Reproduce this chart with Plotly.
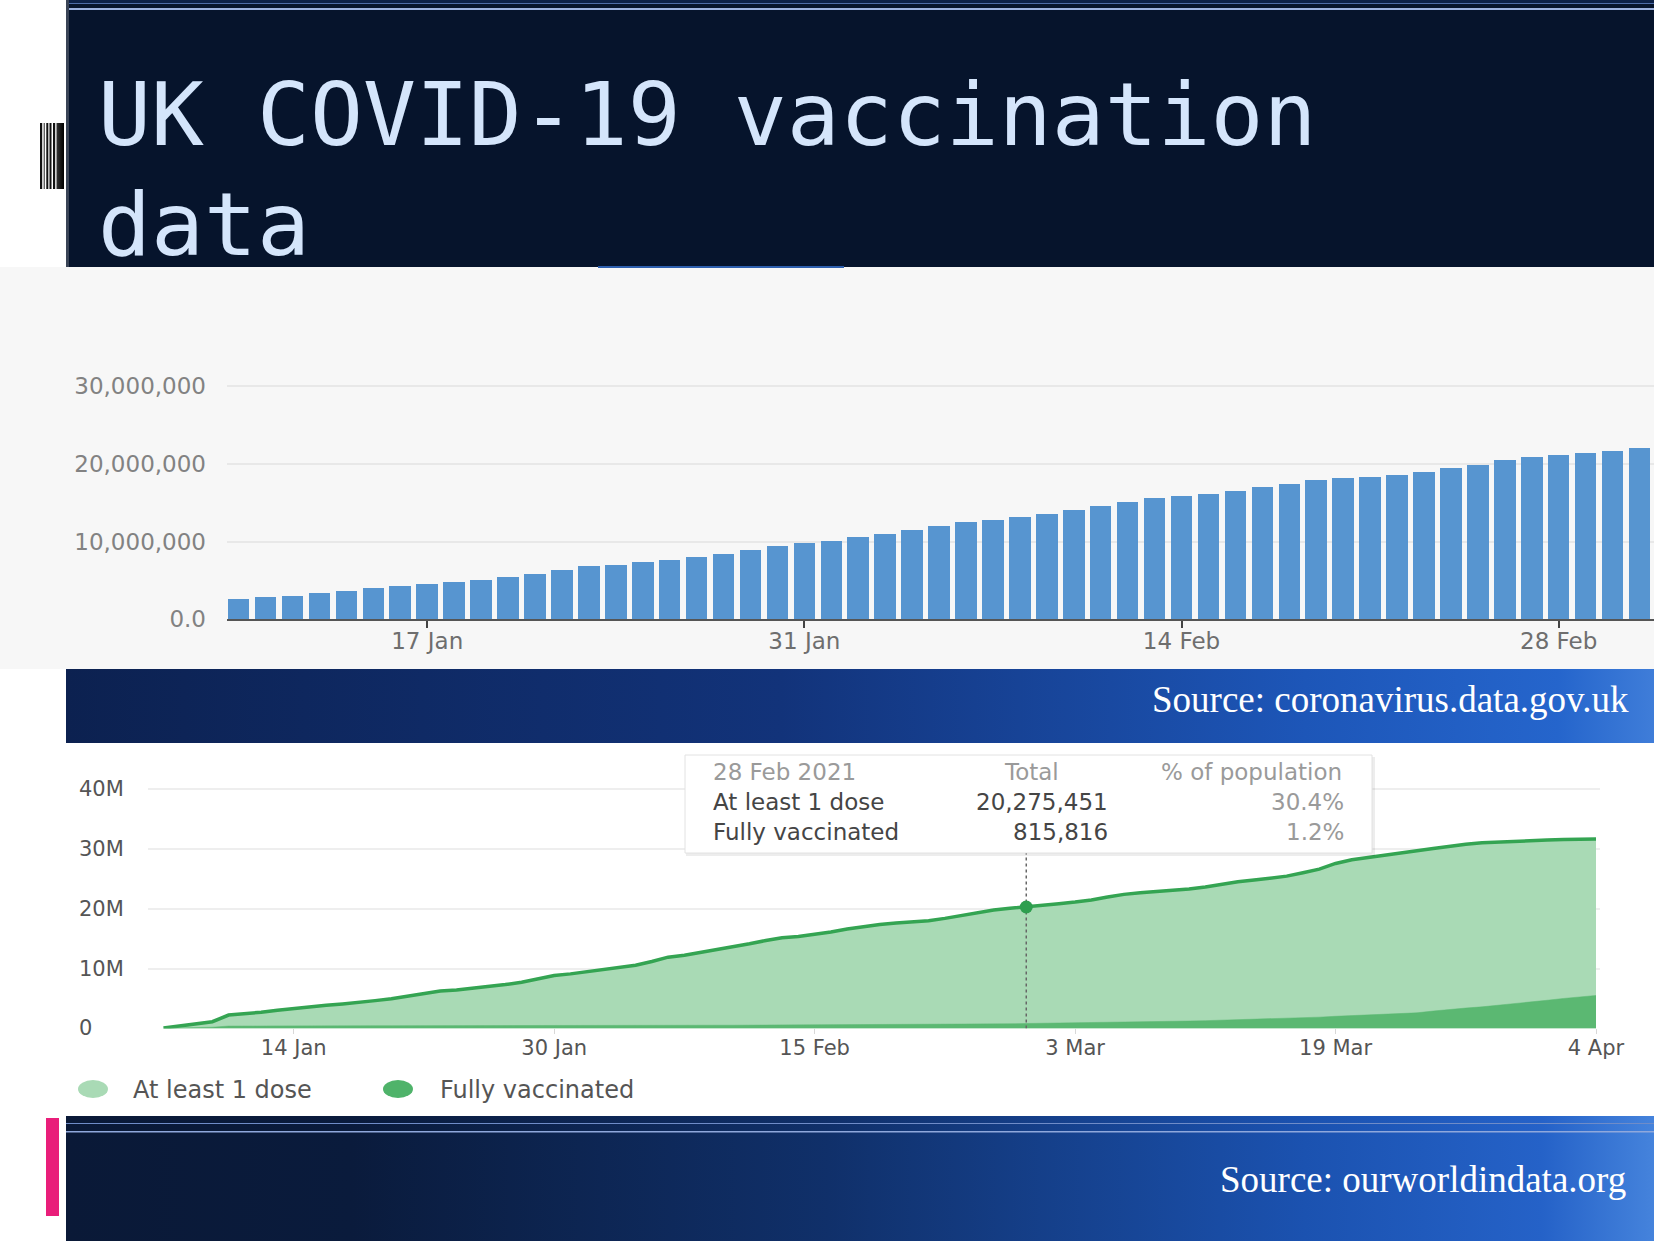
import base64
import pandas as pd
import plotly.graph_objects as go

W, H = 1654, 1241

# ---------------- data ----------------
# Top chart: coronavirus.data.gov.uk cumulative vaccinations (millions)
bar_dates = pd.date_range("2021-01-10", "2021-03-03", freq="D")
bar_values_m = [
    2.66, 2.84, 3.05, 3.31, 3.65, 4.00, 4.30, 4.47, 4.73, 5.07, 5.41, 5.80,
    6.32, 6.79, 7.04, 7.34, 7.65, 7.95, 8.38, 8.86, 9.46, 9.76,
    10.11, 10.54, 11.02, 11.49, 11.97, 12.53, 12.79, 13.17, 13.56, 14.04,
    14.56, 15.12, 15.64, 15.85, 16.11, 16.50, 17.02, 17.45, 17.88, 18.14,
    18.36, 18.57, 18.92, 19.40, 19.91, 20.48, 20.91, 21.08,
    21.38, 21.64, 21.99,
]
top_xtick_dates = ["2021-01-17", "2021-01-31", "2021-02-14", "2021-02-28"]
top_xtick_labels = ["17 Jan", "31 Jan", "14 Feb", "28 Feb"]
top_ytick_vals = [0, 10_000_000, 20_000_000, 30_000_000]
top_ytick_labels = ["0.0", "10,000,000", "20,000,000", "30,000,000"]

# Bottom chart: ourworldindata.org (millions)
owid_dates = pd.date_range("2021-01-06", "2021-04-04", freq="D")
first_dose_m = [
    0.05, 0.40, 0.75, 1.12, 2.23, 2.40, 2.70, 3.05, 3.35, 3.63, 3.85, 4.08,
    4.30, 4.64, 4.97, 5.36, 5.87, 6.26, 6.42, 6.70, 6.98, 7.32, 7.71, 8.21,
    8.83, 9.11,
    9.50, 9.85, 10.20, 10.56, 11.17, 11.90, 12.23, 12.68, 13.13, 13.63,
    14.13, 14.69, 15.14, 15.36, 15.70, 16.09, 16.59, 17.04, 17.37, 17.60,
    17.77, 17.99, 18.38, 18.83, 19.33, 19.78, 20.06, 20.28,
    20.56, 20.84, 21.10, 21.44, 21.94, 22.39, 22.67, 22.83, 23.06, 23.28,
    23.61, 24.11, 24.50, 24.78, 25.06, 25.44, 26.00, 26.61, 27.56, 28.17,
    28.56, 28.89, 29.28, 29.67, 30.06, 30.44, 30.78, 31.00, 31.15, 31.28,
    31.40,
    31.48, 31.55, 31.60, 31.62,
]
fully_m = [
    0.02, 0.05, 0.10, 0.20, 0.39, 0.41, 0.41, 0.42, 0.43, 0.43, 0.44, 0.44,
    0.44, 0.45, 0.45, 0.46, 0.46, 0.47, 0.47, 0.47, 0.47, 0.48, 0.48, 0.49,
    0.49, 0.49,
    0.49, 0.50, 0.50, 0.51, 0.51, 0.52, 0.52, 0.52, 0.53, 0.53, 0.54, 0.54,
    0.55, 0.55, 0.56, 0.56, 0.57, 0.58, 0.59, 0.60, 0.61, 0.62, 0.63, 0.65,
    0.68, 0.72, 0.77, 0.82,
    0.85, 0.89, 0.93, 0.98, 1.03, 1.08, 1.11, 1.14, 1.18, 1.23, 1.29, 1.36,
    1.44, 1.52, 1.58, 1.65, 1.75, 1.88, 2.02, 2.15, 2.25, 2.32, 2.42, 2.60,
    2.90, 3.20, 3.40, 3.60, 3.85, 4.10, 4.40,
    4.70, 5.00, 5.30, 5.50,
]
bot_xtick_dates = ["2021-01-14", "2021-01-30", "2021-02-15", "2021-03-03", "2021-03-19", "2021-04-04"]
bot_xtick_labels = ["14 Jan", "30 Jan", "15 Feb", "3 Mar", "19 Mar", "4 Apr"]
bot_ytick_vals = [0, 10_000_000, 20_000_000, 30_000_000, 40_000_000]
bot_ytick_labels = ["0", "10M", "20M", "30M", "40M"]

series_names = ["At least 1 dose", "Fully vaccinated"]
hover_date = "2021-02-28"
tooltip_header = ["28 Feb 2021", "Total", "% of population"]
tooltip_totals = ["20,275,451", "815,816"]
tooltip_pcts = ["30.4%", "1.2%"]

title_lines = ["UK COVID-19 vaccination", "data"]
source_top = "Source: coronavirus.data.gov.uk"
source_bottom = "Source: ourworldindata.org"

# ---------------- helpers ----------------
def px(x):
    return x / W


def py(y):
    return 1 - y / H


DAY_MS = 86_400_000

# ---------------- slide background (svg) ----------------
svg = f'''<svg xmlns="http://www.w3.org/2000/svg" width="{W}" height="{H}" viewBox="0 0 {W} {H}" preserveAspectRatio="none">
<defs>
<linearGradient id="g1" x1="0" y1="0" x2="1" y2="0">
<stop offset="0" stop-color="#0c2150"/>
<stop offset="0.45" stop-color="#12337a"/>
<stop offset="0.78" stop-color="#1d56b8"/>
<stop offset="0.94" stop-color="#2565cc"/>
<stop offset="1" stop-color="#3f7dd9"/>
</linearGradient>
<linearGradient id="g2" x1="0" y1="0" x2="1" y2="0">
<stop offset="0" stop-color="#0a1937"/>
<stop offset="0.18" stop-color="#0a1b3c"/>
<stop offset="0.48" stop-color="#10306a"/>
<stop offset="0.78" stop-color="#1b52b0"/>
<stop offset="0.93" stop-color="#2562c8"/>
<stop offset="1" stop-color="#4583dc"/>
</linearGradient>
<linearGradient id="gb" x1="0" y1="0" x2="1" y2="0">
<stop offset="0" stop-color="#333"/>
<stop offset="1" stop-color="#000"/>
</linearGradient>
</defs>
<rect x="0" y="0" width="{W}" height="{H}" fill="#ffffff"/>
<rect x="66" y="0" width="{W-66}" height="267" fill="#06142c"/>
<rect x="66" y="0" width="{W-66}" height="3" fill="#0b2047"/>
<rect x="66" y="3" width="{W-66}" height="1" fill="#4d6ca8"/>
<rect x="66" y="8" width="{W-66}" height="2" fill="#9ab0de"/>
<rect x="66" y="0" width="3" height="267" fill="#3a4456"/>
<rect x="40" y="123" width="2.2" height="66" fill="#111"/>
<rect x="43.7" y="123" width="1" height="66" fill="#222"/>
<rect x="46.3" y="123" width="2" height="66" fill="#111"/>
<rect x="49.5" y="123" width="2" height="66" fill="#111"/>
<rect x="53" y="123" width="2.2" height="66" fill="#111"/>
<rect x="56.5" y="123" width="7.5" height="66" fill="url(#gb)"/>
<rect x="0" y="267" width="{W}" height="402" fill="#f7f7f7"/>
<rect x="598" y="266" width="246" height="2" fill="#2d5fae"/>
<rect x="66" y="669" width="{W-66}" height="74" fill="url(#g1)"/>
<rect x="66" y="1116" width="{W-66}" height="{H-1116}" fill="url(#g2)"/>
<rect x="66" y="1123" width="{W-66}" height="1" fill="#6f8cc8"/>
<rect x="66" y="1131" width="{W-66}" height="1.5" fill="#8fa8dc"/>
<rect x="46" y="1118" width="13" height="98" fill="#e91e7a"/>
</svg>'''
svg_uri = "data:image/svg+xml;base64," + base64.b64encode(svg.encode()).decode()

# ---------------- figure ----------------
fig = go.Figure()

bar_values = [v * 1_000_000 for v in bar_values_m]
fig.add_trace(go.Bar(
    x=bar_dates, y=bar_values, width=0.8 * DAY_MS,
    marker=dict(color="#5795d0", line=dict(width=0)),
    xaxis="x", yaxis="y", hoverinfo="skip", showlegend=False,
))

first_dose = [v * 1_000_000 for v in first_dose_m]
fully = [v * 1_000_000 for v in fully_m]
fig.add_trace(go.Scatter(
    x=owid_dates, y=first_dose, mode="lines", fill="tozeroy",
    fillcolor="#a9dab5", line=dict(color="#34a452", width=3.5),
    xaxis="x2", yaxis="y2", name=series_names[0], showlegend=False, hoverinfo="skip",
))
fig.add_trace(go.Scatter(
    x=owid_dates, y=fully, mode="lines", fill="tozeroy",
    fillcolor="#5bb872", line=dict(color="#5bb872", width=0.5),
    xaxis="x2", yaxis="y2", name=series_names[1], showlegend=False, hoverinfo="skip",
))

hover_idx = list(owid_dates.strftime("%Y-%m-%d")).index(hover_date)
# tooltip bottom edge in y2 data units (box bottom at 853 px)
bot_base_px, bot_10m_px = 1028.4, 59.86
tooltip_bottom_val = (bot_base_px - 853) / bot_10m_px * 10_000_000
fig.add_trace(go.Scatter(
    x=[hover_date, hover_date], y=[0, tooltip_bottom_val], mode="lines",
    line=dict(color="#666666", width=1.5, dash="dot"),
    xaxis="x2", yaxis="y2", showlegend=False, hoverinfo="skip",
))
fig.add_trace(go.Scatter(
    x=[hover_date], y=[first_dose[hover_idx]], mode="markers",
    marker=dict(color="#2e9e4f", size=13),
    xaxis="x2", yaxis="y2", showlegend=False, hoverinfo="skip",
))

# axis ranges from pixel geometry
top_base_px, top_10m_px, top_top_px = 619.2, 77.7, 300
top_ymax = (top_base_px - top_top_px) / top_10m_px * 10_000_000
bot_top_px = 770
bot_ymax = (bot_base_px - bot_top_px) / bot_10m_px * 10_000_000

day0_bot = pd.Timestamp("2021-01-06")
bot_pxday = 16.28
bot_x0 = day0_bot - pd.Timedelta(days=15.5 / bot_pxday)
bot_x1 = pd.Timestamp("2021-04-04") + pd.Timedelta(days=4 / bot_pxday)

top_pxday = 26.94
ref17 = pd.Timestamp("2021-01-17")
top_x0 = ref17 - pd.Timedelta(days=(427.2 - 227) / top_pxday)
top_x1 = ref17 + pd.Timedelta(days=(1654 - 427.2) / top_pxday)

tick_font_top = dict(family="DejaVu Sans", size=23, color="#828282")
tick_font_top_x = dict(family="DejaVu Sans", size=23, color="#6e6e6e")
tick_font_bot = dict(family="DejaVu Sans", size=21, color="#555555")

fig.update_layout(
    width=W, height=H,
    margin=dict(l=0, r=0, t=0, b=0, pad=0),
    paper_bgcolor="#ffffff", plot_bgcolor="rgba(0,0,0,0)",
    showlegend=False, bargap=0,
    xaxis=dict(
        domain=[px(227), 1.0], type="date", range=[top_x0, top_x1], anchor="y",
        tickvals=top_xtick_dates, ticktext=top_xtick_labels,
        ticks="outside", ticklen=7, tickwidth=2, tickcolor="#444444",
        showline=True, linecolor="#555555", linewidth=2, ticklabelstandoff=-7,
        showgrid=False, zeroline=False, tickfont=tick_font_top_x, fixedrange=True,
        automargin=False,
    ),
    yaxis=dict(
        domain=[py(top_base_px), py(top_top_px)], range=[0, top_ymax], anchor="x",
        tickvals=top_ytick_vals, ticktext=top_ytick_labels,
        showgrid=True, gridcolor="#e8e8e8", gridwidth=1.5, zeroline=False,
        ticklabelstandoff=20, tickfont=tick_font_top, fixedrange=True,
        automargin=False,
    ),
    xaxis2=dict(
        domain=[px(148), px(1600)], type="date", range=[bot_x0, bot_x1], anchor="y2",
        tickvals=bot_xtick_dates, ticktext=bot_xtick_labels,
        ticks="outside", ticklen=5, tickwidth=1, tickcolor="#d8d8d8",
        showline=False, showgrid=False, zeroline=False, tickfont=tick_font_bot,
        ticklabelstandoff=-5, fixedrange=True, automargin=False,
    ),
    yaxis2=dict(
        domain=[py(bot_base_px), py(bot_top_px)], range=[0, bot_ymax], anchor="x2",
        tickvals=bot_ytick_vals, showticklabels=False,
        showgrid=True, gridcolor="#eeeeee", gridwidth=1.5, zeroline=False,
        fixedrange=True, automargin=False,
    ),
    images=[dict(
        source=svg_uri, xref="paper", yref="paper", x=0, y=1, sizex=1, sizey=1,
        xanchor="left", yanchor="top", sizing="stretch", layer="below",
    )],
)

annotations = []
# Title
title_size = 88
title_font = dict(family="DejaVu Sans Mono", size=title_size, color="#d4e5fb")
for line, base in zip(title_lines, [145.7, 255.7]):
    annotations.append(dict(
        text=line, x=px(96), y=py(base - 0.35 * title_size), xref="paper", yref="paper",
        xanchor="left", yanchor="middle", showarrow=False, font=title_font,
    ))
# Sources
src_font = dict(family="Liberation Serif", size=37, color="#ffffff")
annotations.append(dict(text=source_top, x=px(1631), y=py(699.5), xref="paper", yref="paper",
                        xanchor="right", yanchor="middle", showarrow=False, font=src_font))
annotations.append(dict(text=source_bottom, x=px(1628), y=py(1179.5), xref="paper", yref="paper",
                        xanchor="right", yanchor="middle", showarrow=False, font=src_font))
# Bottom chart y labels (left aligned)
for v, t in zip(bot_ytick_vals, bot_ytick_labels):
    annotations.append(dict(text=t, x=px(77), y=v, xref="paper", yref="y2",
                            xanchor="left", yanchor="middle", showarrow=False, font=tick_font_bot))

# Tooltip texts
tt_light = dict(family="DejaVu Sans", size=23, color="#9a9a9a")
tt_dark = dict(family="DejaVu Sans", size=23, color="#454545")
rows_y = [772, 802, 831.5]
annotations.append(dict(text=tooltip_header[0], x=px(711), y=py(rows_y[0]), xref="paper", yref="paper",
                        xanchor="left", yanchor="middle", showarrow=False, font=tt_light))
annotations.append(dict(text=tooltip_header[1], x=px(1031), y=py(rows_y[0]), xref="paper", yref="paper",
                        xanchor="center", yanchor="middle", showarrow=False, font=tt_light))
annotations.append(dict(text=tooltip_header[2], x=px(1344), y=py(rows_y[0]), xref="paper", yref="paper",
                        xanchor="right", yanchor="middle", showarrow=False, font=tt_light))
for i in range(2):
    yy = py(rows_y[i + 1])
    annotations.append(dict(text=series_names[i], x=px(711), y=yy, xref="paper", yref="paper",
                            xanchor="left", yanchor="middle", showarrow=False, font=tt_dark))
    annotations.append(dict(text=tooltip_totals[i], x=px(1110), y=yy, xref="paper", yref="paper",
                            xanchor="right", yanchor="middle", showarrow=False, font=tt_dark))
    annotations.append(dict(text=tooltip_pcts[i], x=px(1346), y=yy, xref="paper", yref="paper",
                            xanchor="right", yanchor="middle", showarrow=False, font=tt_light))

# Legend texts
leg_font = dict(family="DejaVu Sans", size=24, color="#555555")
annotations.append(dict(text=series_names[0], x=px(131), y=py(1089.5), xref="paper", yref="paper",
                        xanchor="left", yanchor="middle", showarrow=False, font=leg_font))
annotations.append(dict(text=series_names[1], x=px(438), y=py(1089.5), xref="paper", yref="paper",
                        xanchor="left", yanchor="middle", showarrow=False, font=leg_font))
fig.update_layout(annotations=annotations)

shapes = [
    # tooltip shadow + box
    dict(type="rect", xref="paper", yref="paper", x0=px(686), x1=px(1375), y0=py(757), y1=py(856),
         fillcolor="rgba(0,0,0,0.07)", line=dict(width=0), layer="above"),
    dict(type="rect", xref="paper", yref="paper", x0=px(685), x1=px(1372), y0=py(755), y1=py(853),
         fillcolor="#ffffff", line=dict(color="#e2e2e2", width=1), layer="above"),
    # legend circles
    dict(type="circle", xref="paper", yref="paper", x0=px(78), x1=px(108), y0=py(1080), y1=py(1098),
         fillcolor="#a9dab5", line=dict(width=0), layer="above"),
    dict(type="circle", xref="paper", yref="paper", x0=px(383), x1=px(413), y0=py(1080), y1=py(1098),
         fillcolor="#4fb36a", line=dict(width=0), layer="above"),
]
fig.update_layout(shapes=shapes)

post_js = """
document.documentElement.style.overflow = 'hidden';
document.body.style.margin = '0';
document.body.style.overflow = 'hidden';
"""

fig.write_html(
    "out.html",
    config={"displayModeBar": False},
    post_script=post_js,
)
